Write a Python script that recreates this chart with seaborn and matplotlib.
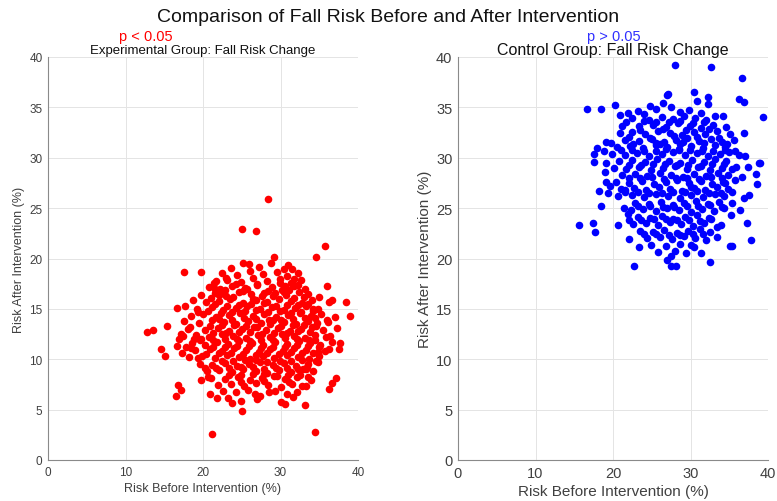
import matplotlib
matplotlib.use("Agg")
import matplotlib.pyplot as plt
import seaborn as sns
import pandas as pd

# ---------------- data ----------------
exp_before = [
    17.6, 19.7, 21.7, 21.5, 22.1, 16.7, 17.7, 19.3,
    28.4, 25.0, 26.8, 35.8, 34.6, 29.1, 25.2, 23.0, 36.0, 38.5, 39.0, 35.0, 36.6, 34.2, 31.5, 31.7, 30.6,
    12.8, 13.5, 15.4, 14.6, 15.1, 16.8, 17.1, 16.5, 21.2, 20.9, 21.8, 19.8, 20.6, 20.3, 19.4, 17.3, 16.7, 16.9, 17.1, 17.8, 18.4, 18.9, 19.7, 18.3,
    34.5, 25.0, 33.1, 30.1, 30.6, 36.2, 36.6, 37.1, 33.3, 32.1, 28.5, 27.4, 26.7, 24.9, 23.8, 37.5, 37.7, 36.0, 36.4, 35.8, 34.6, 33.6, 33.3,
    23.6, 25.9, 27.2, 28.8, 30.4, 31.0,
    22.5, 24.4, 26.1, 27.7, 29.5, 30.9, 32.2,
    21.4, 23.1, 24.9, 26.5, 28.2, 29.9, 31.3, 32.7,
    20.8, 22.2, 23.8, 25.4, 27.0, 28.9, 30.2, 31.8, 33.1,
    19.8, 21.6, 23.0, 24.6, 26.2, 27.6, 29.3, 30.7, 32.4, 33.6,
    18.7, 20.4, 22.0, 23.5, 25.1, 26.8, 28.2, 29.8, 31.3, 32.8, 34.0, 36.3,
    19.2, 21.1, 22.6, 24.2, 25.7, 27.3, 28.9, 30.4, 31.9, 33.3, 34.8,
    18.4, 20.0, 21.7, 23.3, 24.8, 26.4, 27.9, 29.4, 31.0, 32.5, 33.9, 35.2, 37.0,
    17.6, 19.5, 21.2, 22.7, 24.3, 25.8, 27.5, 29.0, 30.5, 32.0, 33.5, 34.7, 36.1,
    18.1, 20.3, 21.9, 23.4, 25.0, 26.6, 28.1, 29.7, 31.2, 32.7, 34.1, 35.5, 37.3,
    17.4, 19.1, 20.8, 22.4, 23.9, 25.5, 27.1, 28.6, 30.2, 31.7, 33.2, 34.5, 35.9,
    18.6, 20.2, 21.8, 23.2, 24.7, 26.3, 27.8, 29.3, 30.9, 32.4, 33.8, 35.1, 36.6,
    19.0, 20.9, 22.5, 24.0, 25.6, 27.2, 28.7, 30.3, 31.8, 33.3, 34.8, 36.2,
    18.2, 19.9, 21.5, 23.1, 24.6, 26.1, 27.7, 29.2, 30.8, 32.3, 33.7, 35.0,
    19.6, 21.2, 22.8, 24.4, 25.9, 27.4, 29.0, 30.5, 32.0, 33.5, 34.9,
    20.5, 22.1, 23.7, 25.2, 26.8, 28.3, 29.8, 31.4, 32.9, 34.2,
    21.0, 22.9, 24.5, 26.0, 27.6, 29.1, 30.6, 32.1, 33.9,
    21.9, 23.6, 25.3, 26.9, 28.4, 30.0, 31.5, 32.8,
    22.6, 24.3, 25.8, 29.3, 30.9,
    23.2, 27.0, 31.6,
    22.9, 25.7, 28.4, 31.1,
    21.0, 23.9, 26.5, 29.0, 31.7,
    21.6, 24.6, 27.9, 30.9, 33.6,
    20.6, 23.8, 26.9, 29.9, 32.7,
    22.1, 25.3, 28.5, 31.6, 34.4,
    20.9, 24.0, 27.0, 30.1, 33.0,
    21.3, 24.6, 27.6, 30.8, 33.8,
    19.6, 22.9, 26.0, 29.0, 32.1, 34.4,
    21.3, 24.4, 27.5, 30.6, 33.6,
    20.4, 23.6, 26.8, 29.8, 32.8,
    22.4, 25.4, 28.3, 31.3,
    21.7, 24.9, 27.9, 30.9, 33.4,
    23.4, 26.4, 29.6, 32.5,
    24.9, 27.9, 31.1,
    24.3, 27.0, 29.9, 32.3,
    22.4, 25.2, 27.9, 30.5, 33.0,
    23.1, 26.2, 29.4, 32.2,
    22.3, 25.4, 28.4, 31.3, 34.2,
    23.7, 26.8, 30.0, 33.1,
    22.5, 25.6, 28.6, 31.6, 34.6,
    23.0, 26.1, 29.2, 32.3,
    21.3, 24.4, 27.5, 30.6, 33.7,
    22.8, 25.9, 29.0, 32.1, 35.0,
    22.0, 25.2, 28.2, 31.3, 34.2,
    23.9, 26.9, 29.9, 32.8,
    23.3, 26.4, 29.4, 32.2,
    24.9, 27.9, 31.0,
]
exp_after = [
    18.7, 18.7, 17.8, 17.0, 16.4, 15.1, 15.3, 14.7,
    25.9, 22.9, 22.7, 21.2, 20.1, 20.1, 19.6, 18.1, 17.3, 15.7, 14.3, 16.2, 15.9, 15.0, 19.0, 18.0, 17.3,
    12.7, 12.9, 13.3, 11.0, 10.3, 7.4, 6.9, 6.4, 2.6, 6.6, 6.2, 7.9, 8.2, 9.1, 10.1, 10.6, 11.3, 12.0, 12.5, 11.2, 11.1, 12.0, 12.0, 13.2,
    2.8, 4.9, 5.5, 5.8, 5.6, 7.0, 7.6, 8.1, 7.3, 6.7, 6.7, 6.4, 6.6, 5.9, 5.7, 11.0, 11.6, 13.9, 12.3, 10.8, 9.8, 8.2, 9.0,
    19.1, 19.5, 19.2, 19.6, 19.0, 19.4,
    18.6, 18.4, 18.8, 18.5, 18.7, 18.3, 18.6,
    17.6, 17.9, 17.7, 18.1, 17.8, 18.0, 17.6, 17.9,
    17.2, 17.0, 17.3, 17.1, 17.4, 17.2, 16.9, 17.3, 17.0,
    16.4, 16.6, 16.3, 16.7, 16.5, 16.3, 16.6, 16.4, 16.7, 16.5,
    15.9, 15.7, 15.8, 16.0, 15.6, 15.9, 15.7, 16.0, 15.8, 15.6, 15.9, 15.7,
    15.0, 15.2, 14.9, 15.1, 15.3, 15.0, 15.2, 14.9, 15.1, 15.3, 15.0,
    14.3, 14.5, 14.2, 14.4, 14.6, 14.3, 14.5, 14.2, 14.4, 14.6, 14.3, 14.5, 14.2,
    13.8, 13.6, 13.9, 13.7, 13.5, 13.8, 13.6, 13.9, 13.7, 13.5, 13.8, 13.6, 13.7,
    13.0, 12.9, 13.1, 12.8, 13.0, 13.2, 12.9, 13.1, 12.8, 13.0, 13.2, 12.9, 13.1,
    12.3, 12.4, 12.2, 12.5, 12.3, 12.1, 12.4, 12.2, 12.5, 12.3, 12.1, 12.4, 12.2,
    11.6, 11.4, 11.7, 11.5, 11.8, 11.6, 11.4, 11.7, 11.5, 11.8, 11.6, 11.4, 11.7,
    10.9, 11.0, 10.8, 11.1, 10.9, 10.7, 11.0, 10.8, 11.1, 10.9, 10.7, 11.0,
    10.2, 10.3, 10.1, 10.4, 10.2, 10.0, 10.3, 10.1, 10.4, 10.2, 10.0, 10.3,
    9.5, 9.4, 9.6, 9.3, 9.5, 9.7, 9.4, 9.6, 9.3, 9.5, 9.7,
    8.8, 8.9, 8.7, 9.0, 8.8, 8.6, 8.9, 8.7, 9.0, 8.8,
    8.1, 8.0, 8.2, 7.9, 8.1, 8.3, 8.0, 8.2, 7.9,
    7.4, 7.5, 7.3, 7.6, 7.4, 7.2, 7.5, 7.3,
    6.8, 6.7, 6.9, 6.8, 6.6,
    6.2, 6.1, 6.3,
    16.9, 17.0, 16.8, 16.9,
    16.1, 16.2, 16.0, 16.3, 16.1,
    15.5, 15.4, 15.6, 15.4, 15.5,
    14.8, 14.7, 14.9, 14.8, 14.7,
    14.0, 14.1, 13.9, 14.0, 14.1,
    13.3, 13.4, 13.2, 13.3, 13.4,
    12.6, 12.7, 12.5, 12.6, 12.7,
    11.9, 12.0, 11.8, 11.9, 12.0, 11.9,
    11.2, 11.3, 11.1, 11.2, 11.3,
    10.5, 10.6, 10.4, 10.5, 10.6,
    9.8, 9.9, 9.7, 9.8,
    9.1, 9.2, 9.0, 9.1, 9.2,
    8.4, 8.5, 8.3, 8.4,
    7.7, 7.8, 7.7,
    17.5, 17.5, 17.6, 17.4,
    16.6, 16.8, 16.6, 16.7, 16.2,
    15.3, 15.5, 15.3, 15.4,
    14.6, 14.8, 14.7, 14.6, 14.8,
    13.9, 14.0, 13.9, 14.1,
    13.4, 13.3, 13.5, 13.4, 13.3,
    12.6, 12.7, 12.6, 12.8,
    11.9, 12.0, 11.9, 12.1, 11.9,
    11.2, 11.3, 11.2, 11.4, 11.2,
    10.6, 10.5, 10.6, 10.7, 10.6,
    9.8, 9.9, 9.8, 9.9,
    9.1, 9.2, 9.1, 9.0,
    8.4, 8.5, 8.4,
]

ctl_before = [
    16.6, 18.5, 20.3, 24.8, 26.4, 27.0, 20.9, 21.9, 24.0, 21.1, 17.9, 17.6, 18.9, 19.1, 17.6, 19.1,
    28.0, 32.6, 36.6, 30.4, 32.3, 32.3, 30.9, 36.3, 36.9, 39.4, 34.2, 36.9, 35.7, 37.0, 38.9, 35.1, 33.2, 27.1, 27.5,
    15.6, 17.4, 17.7, 22.7, 23.3, 22.0, 20.7, 18.5, 18.2, 19.4, 19.1, 19.0, 21.5, 21.4, 21.9, 27.0,
    28.1, 32.5, 31.4, 35.1, 35.4, 37.8, 37.3, 33.4, 30.4, 35.2, 36.4, 36.9, 35.3, 35.3, 38.6, 38.4, 39.0, 37.4, 35.9, 34.5, 33.4, 27.5, 27.5,
    23.2, 25.6, 28.6, 29.8, 31.4,
    22.4, 24.6, 26.3, 27.8, 29.2, 30.6, 32.0,
    23.3, 25.1, 26.9, 28.4, 29.9, 31.4, 32.9, 34.6,
    20.9, 22.5, 24.1, 25.8, 27.3, 28.9, 30.4, 31.9, 33.4,
    21.6, 23.4, 25.0, 26.6, 28.1, 29.6, 31.1, 32.6, 34.0, 35.6,
    20.5, 22.2, 23.9, 25.5, 27.0, 28.5, 30.0, 31.6, 33.1, 34.5,
    19.9, 21.5, 23.1, 24.7, 26.3, 27.8, 29.3, 30.8, 32.3, 33.8, 35.0, 36.3,
    20.8, 22.5, 24.1, 25.7, 27.2, 28.7, 30.2, 31.7, 33.2, 34.6,
    20.1, 21.7, 23.3, 24.9, 26.5, 28.0, 29.5, 31.0, 32.5, 34.0, 35.3,
    21.2, 22.8, 24.4, 26.0, 27.5, 29.0, 30.5, 32.0, 33.5, 34.9, 36.6,
    20.4, 22.1, 23.7, 25.3, 26.8, 28.3, 29.8, 31.3, 32.8, 34.2, 35.7,
    21.0, 22.7, 24.3, 25.9, 27.4, 28.9, 30.4, 31.9, 33.4, 34.8,
    20.6, 22.4, 24.0, 25.6, 27.1, 28.6, 30.1, 31.6, 33.1, 34.3, 37.6,
    22.9, 24.6, 26.2, 27.7, 29.2, 30.7, 32.2, 33.7,
    22.3, 23.9, 25.5, 27.0, 28.5, 30.0, 31.5, 33.0, 34.3,
    23.2, 24.8, 26.3, 27.8, 29.3, 30.9, 32.4,
    22.6, 24.2, 25.8, 27.3, 28.8, 30.3, 31.8, 33.9,
    23.5, 25.1, 26.6, 28.2, 29.7, 31.2, 32.5,
    24.4, 26.0, 27.6, 29.1, 30.6, 32.0,
    24.9, 26.9, 28.6, 30.1,
    25.8, 28.0, 29.4,
    21.7, 24.0, 27.2, 30.3,
    22.0, 24.8, 27.9, 30.9, 33.7,
    21.0, 24.0, 26.9, 29.9, 32.9,
    22.0, 25.1, 28.2, 31.3, 34.3,
    23.5, 26.6, 29.6, 32.6,
    21.6, 24.7, 27.8, 30.9, 33.9,
    23.2, 26.4, 29.5, 32.5,
    22.0, 25.3, 28.3, 31.2,
    24.0, 27.2, 30.3,
    19.8, 26.1, 29.0,
    19.6, 30.1,
    25.6, 28.7, 31.8,
    23.5, 26.4, 29.4, 32.4,
    22.6, 25.6, 28.7, 31.7, 34.7,
    22.5, 25.5, 28.5, 31.5, 34.4,
    23.6, 26.7, 29.7, 32.8,
    22.1, 25.0, 28.1, 31.1, 34.1,
    23.2, 26.3, 29.3, 32.4,
    24.8, 27.9, 31.0, 34.0,
    23.6, 26.8, 29.8, 32.7,
    25.6, 28.7, 31.6,
]
ctl_after = [
    34.8, 34.8, 35.2, 35.1, 35.4, 36.2, 34.2, 34.4, 34.3, 33.2, 31.0, 30.4, 30.7, 31.6, 29.6, 29.5,
    39.2, 39.0, 37.9, 36.5, 36.0, 35.3, 35.6, 35.8, 35.5, 34.0, 34.1, 32.5, 30.7, 30.2, 29.5, 32.4, 34.1, 36.3, 35.0,
    23.3, 23.5, 22.6, 19.3, 21.1, 21.9, 23.3, 25.2, 26.7, 26.5, 27.6, 28.6, 26.8, 25.0, 24.4, 19.9,
    19.3, 19.7, 20.5, 21.2, 21.2, 21.8, 23.5, 22.1, 21.1, 24.3, 24.8, 26.0, 25.5, 26.6, 27.4, 28.4, 29.5, 29.1, 29.1, 27.5, 23.1, 19.3, 20.2,
    34.6, 34.8, 34.5, 34.7, 34.4,
    33.9, 33.7, 34.0, 33.8, 34.1, 33.9, 33.7,
    33.2, 33.3, 33.1, 33.4, 33.2, 33.0, 33.3, 33.1,
    32.5, 32.6, 32.4, 32.7, 32.5, 32.3, 32.6, 32.4, 32.7,
    31.8, 31.7, 31.9, 31.6, 31.8, 32.0, 31.7, 31.9, 31.6, 31.8,
    31.1, 31.2, 31.0, 31.3, 31.1, 30.9, 31.2, 31.0, 31.3, 31.1,
    30.4, 30.3, 30.5, 30.2, 30.4, 30.6, 30.3, 30.5, 30.2, 30.4, 30.6, 30.3,
    29.7, 29.8, 29.6, 29.9, 29.7, 29.5, 29.8, 29.6, 29.9, 29.7,
    29.0, 28.9, 29.1, 28.8, 29.0, 29.2, 28.9, 29.1, 28.8, 29.0, 28.9,
    28.3, 28.4, 28.2, 28.5, 28.3, 28.1, 28.4, 28.2, 28.5, 28.3, 28.1,
    27.6, 27.5, 27.7, 27.4, 27.6, 27.8, 27.5, 27.7, 27.4, 27.6, 27.8,
    26.9, 27.0, 26.8, 27.1, 26.9, 26.7, 27.0, 26.8, 27.1, 26.9,
    26.2, 26.3, 26.1, 26.4, 26.2, 26.0, 26.3, 26.1, 26.4, 26.2, 26.3,
    25.5, 25.4, 25.6, 25.3, 25.5, 25.7, 25.4, 25.6,
    24.8, 24.9, 24.7, 25.0, 24.8, 24.6, 24.9, 24.7, 25.0,
    24.1, 24.0, 24.2, 23.9, 24.1, 24.3, 24.0,
    23.4, 23.5, 23.3, 23.6, 23.4, 23.2, 23.5, 23.3,
    22.7, 22.6, 22.8, 22.5, 22.7, 22.9, 22.6,
    22.0, 22.1, 21.9, 22.2, 22.0, 21.8,
    21.3, 21.2, 21.4, 21.3,
    20.6, 20.7, 20.5,
    33.5, 33.6, 33.5, 33.4,
    32.1, 32.0, 32.2, 32.1, 32.0,
    30.8, 30.7, 30.9, 30.8, 30.7,
    29.3, 29.4, 29.3, 29.2, 29.4,
    28.0, 27.9, 28.0, 28.1,
    26.6, 26.5, 26.6, 26.7, 26.5,
    25.2, 25.1, 25.2, 25.3,
    23.8, 23.9, 23.8, 23.7,
    22.4, 22.3, 22.4,
    31.5, 31.4, 31.6,
    27.2, 27.1,
    33.5, 33.6, 33.5,
    32.8, 32.9, 32.8, 32.9,
    31.4, 31.5, 31.4, 31.5, 31.4,
    30.8, 30.7, 30.8, 30.7, 30.8,
    29.3, 29.4, 29.3, 29.4,
    28.0, 28.1, 28.0, 27.9, 28.0,
    26.6, 26.5, 26.6, 26.5,
    25.2, 25.1, 25.2, 25.1,
    23.8, 23.9, 23.8, 23.9,
    22.4, 22.3, 22.4,
]

x_ticks = [0, 10, 20, 30, 40]
y_ticks = [0, 5, 10, 15, 20, 25, 30, 35, 40]

main_title = "Comparison of Fall Risk Before and After Intervention"
exp_title = "Experimental Group: Fall Risk Change"
ctl_title = "Control Group: Fall Risk Change"
exp_p = "p < 0.05"
ctl_p = "p > 0.05"
x_label = "Risk Before Intervention (%)"
y_label = "Risk After Intervention (%)"

# ---------------- plotting ----------------
sns.set_theme(style="white")
plt.rcParams['font.family'] = ['Liberation Sans', 'DejaVu Sans']

exp_df = pd.DataFrame({"before": exp_before, "after": exp_after})
ctl_df = pd.DataFrame({"before": ctl_before, "after": ctl_after})

fig = plt.figure(figsize=(7.77, 5.02), dpi=100)
W, H = 777.0, 502.0
ax1 = fig.add_axes([48 / W, 1 - 461 / H, 310 / W, 403 / H])
ax2 = fig.add_axes([458 / W, 1 - 461 / H, 310 / W, 403 / H])

for ax, df, color, tsize in [(ax1, exp_df, "#ff0000", 9), (ax2, ctl_df, "#0000ff", 11)]:
    sns.scatterplot(data=df, x="before", y="after", ax=ax, color=color,
                    s=30, linewidth=0, alpha=1, zorder=3)
    ax.set_xlim(0, 40)
    ax.set_ylim(0, 40)
    ax.set_xticks(x_ticks)
    ax.set_yticks(y_ticks)
    ax.grid(True, color="#e4e4e4", linewidth=0.7, zorder=0)
    ax.set_axisbelow(True)
    for side in ["top", "right"]:
        ax.spines[side].set_visible(False)
    for side in ["left", "bottom"]:
        ax.spines[side].set_color("#8a8a8a")
        ax.spines[side].set_linewidth(0.8)
    ax.tick_params(direction="in", length=3, width=0.6, color="#8a8a8a",
                   labelsize=tsize - 0.5, labelcolor="#404040", pad=4)
    ax.set_xlabel(x_label, fontsize=tsize, color="#404040", labelpad=3)
    ax.set_ylabel(y_label, fontsize=tsize, color="#404040", labelpad=3)

ax1.set_title(exp_title, fontsize=9.5, color="#111111", pad=3)
ax2.set_title(ctl_title, fontsize=11.5, color="#111111", pad=2)

fig.text(146 / W, 1 - 37 / H, exp_p, color="#ff0000", fontsize=10.5, ha="center", va="center")
fig.text(614 / W, 1 - 37 / H, ctl_p, color="#3030ff", fontsize=10.5, ha="center", va="center")
fig.text(0.5, 1 - 18 / H, main_title, fontsize=14, color="#111111", ha="center", va="center")

fig.savefig("out.png", dpi=100)
